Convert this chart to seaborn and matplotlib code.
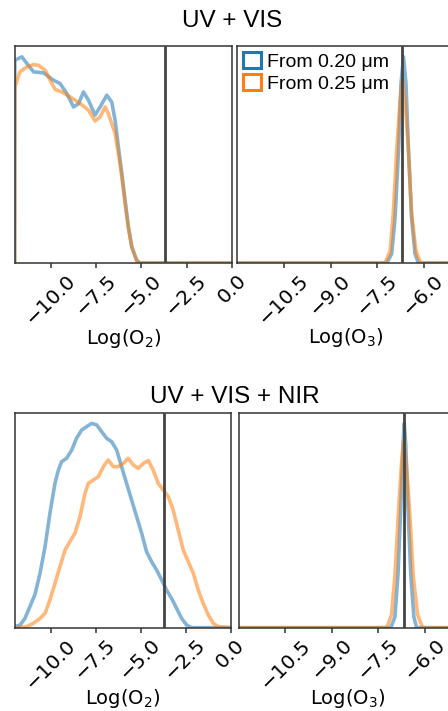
import matplotlib
matplotlib.use("Agg")
import matplotlib.pyplot as plt
from matplotlib.patches import Patch
import seaborn as sns

# -----------------------------
# Data (density normalised to axis height)
# -----------------------------
labels = ["From 0.20 \u03bcm", "From 0.25 \u03bcm"]
colors = ["#1f77b4", "#ff7f0e"]
row_titles = ["UV + VIS", "UV + VIS + NIR"]
true_o2 = -3.72
true_o3 = -6.69
o2_ticks = [-10.0, -7.5, -5.0, -2.5, 0.0]
o3_ticks = [-10.5, -9.0, -7.5, -6.0]

# UV + VIS, Log(O2)
vis_o2_blue_x = [-12.0, -11.99, -11.60, -11.32, -10.96, -10.40, -9.85, -9.49, -9.12, -8.75,
                 -8.47, -8.20, -7.92, -7.56, -7.28, -6.91, -6.64, -6.45, -6.27, -6.08,
                 -5.90, -5.72, -5.53, -5.26, -5.07, 0.0]
vis_o2_blue_y = [0.0, 0.935, 0.951, 0.920, 0.882, 0.877, 0.843, 0.828, 0.782, 0.720,
                 0.735, 0.789, 0.751, 0.682, 0.720, 0.774, 0.743, 0.658, 0.535, 0.412,
                 0.289, 0.166, 0.074, 0.012, 0.0, 0.0]
vis_o2_orange_x = [-12.0, -11.99, -11.71, -11.32, -10.96, -10.68, -10.31, -10.04, -9.76, -9.39,
                   -8.93, -8.37, -7.92, -7.56, -7.28, -7.00, -6.82, -6.45, -6.27, -6.08,
                   -5.90, -5.72, -5.53, -5.26, -5.07, 0.0]
vis_o2_orange_y = [0.0, 0.812, 0.882, 0.905, 0.915, 0.912, 0.889, 0.843, 0.800, 0.789,
                   0.766, 0.735, 0.705, 0.655, 0.674, 0.720, 0.689, 0.597, 0.505, 0.397,
                   0.274, 0.166, 0.074, 0.012, 0.0, 0.0]

# UV + VIS, Log(O3)
vis_o3_blue_x = [-12.0, -7.19, -7.03, -6.92, -6.81, -6.73, -6.65, -6.57, -6.49, -6.39, -6.28, -6.17, -5.0]
vis_o3_blue_y = [0.0, 0.0, 0.043, 0.212, 0.520, 0.828, 0.951, 0.828, 0.520, 0.212, 0.043, 0.0, 0.0]
vis_o3_orange_x = [-12.0, -7.24, -7.08, -6.98, -6.87, -6.76, -6.69, -6.60, -6.49, -6.39, -6.25, -6.10, -5.0]
vis_o3_orange_y = [0.0, 0.0, 0.058, 0.228, 0.520, 0.751, 0.846, 0.751, 0.520, 0.228, 0.058, 0.0, 0.0]

# UV + VIS + NIR, Log(O2)
nir_o2_blue_x = [-12.0, -11.70, -11.43, -11.15, -10.87, -10.59, -10.31, -10.04, -9.76, -9.57,
                 -9.39, -9.11, -8.83, -8.56, -8.28, -8.00, -7.72, -7.44, -7.17, -6.89,
                 -6.61, -6.33, -6.06, -5.78, -5.50, -5.22, -4.94, -4.67, -4.39, -4.11,
                 -3.83, -3.56, -3.28, -3.00, -2.72, -2.44, -2.17, 0.0]
nir_o2_blue_y = [0.005, 0.012, 0.043, 0.098, 0.155, 0.253, 0.377, 0.532, 0.671, 0.733,
                 0.772, 0.788, 0.826, 0.881, 0.919, 0.935, 0.950, 0.943, 0.912, 0.881,
                 0.865, 0.826, 0.749, 0.671, 0.594, 0.516, 0.439, 0.353, 0.307, 0.268,
                 0.222, 0.175, 0.136, 0.090, 0.043, 0.012, 0.0, 0.0]
nir_o2_orange_x = [-12.0, -11.33, -10.96, -10.59, -10.31, -10.04, -9.76, -9.48, -9.20, -8.93,
                   -8.65, -8.37, -8.09, -7.91, -7.63, -7.35, -7.07, -6.80, -6.52, -6.24,
                   -5.96, -5.69, -5.41, -5.13, -4.85, -4.57, -4.30, -4.02, -3.74, -3.46,
                   -3.19, -2.91, -2.63, -2.35, -2.07, -1.80, -1.52, -1.24, -0.96, -0.69, 0.0]
nir_o2_orange_y = [0.0, 0.005, 0.020, 0.043, 0.067, 0.129, 0.206, 0.284, 0.361, 0.400,
                   0.439, 0.516, 0.625, 0.671, 0.687, 0.702, 0.749, 0.780, 0.749, 0.749,
                   0.764, 0.788, 0.757, 0.741, 0.764, 0.777, 0.733, 0.671, 0.640, 0.609,
                   0.547, 0.454, 0.361, 0.307, 0.253, 0.175, 0.113, 0.059, 0.020, 0.005, 0.0]

# UV + VIS + NIR, Log(O3)
nir_o3_blue_x = [-12.0, -7.10, -6.97, -6.87, -6.78, -6.71, -6.67, -6.62, -6.55, -6.46, -6.36, -6.27, -5.0]
nir_o3_blue_y = [0.0, 0.0, 0.050, 0.250, 0.560, 0.850, 0.950, 0.850, 0.560, 0.250, 0.050, 0.0, 0.0]
nir_o3_orange_x = [-12.0, -7.23, -7.08, -6.97, -6.86, -6.76, -6.69, -6.60, -6.49, -6.38, -6.24, -6.08, -5.0]
nir_o3_orange_y = [0.0, 0.0, 0.060, 0.240, 0.530, 0.760, 0.865, 0.760, 0.530, 0.240, 0.060, 0.0, 0.0]

# -----------------------------
# Figure
# -----------------------------
sns.set_style("ticks")
plt.rcParams["font.family"] = ["DejaVu Sans"]
plt.rcParams["axes.edgecolor"] = "#333333"
plt.rcParams["axes.linewidth"] = 1.1
plt.rcParams["text.color"] = "black"
plt.rcParams["axes.labelcolor"] = "black"
plt.rcParams["xtick.color"] = "#333333"
plt.rcParams["xtick.labelcolor"] = "black"

fig = plt.figure(figsize=(4.48, 7.11), dpi=100)

ax_pos = [
    [0.0327, 0.630, 0.485, 0.305],
    [0.530, 0.630, 0.485, 0.305],
    [0.0327, 0.1172, 0.482, 0.3024],
    [0.533, 0.1172, 0.485, 0.3024],
]
axes = [fig.add_axes(p) for p in ax_pos]

panels = [
    (vis_o2_blue_x, vis_o2_blue_y, vis_o2_orange_x, vis_o2_orange_y),
    (vis_o3_blue_x, vis_o3_blue_y, vis_o3_orange_x, vis_o3_orange_y),
    (nir_o2_blue_x, nir_o2_blue_y, nir_o2_orange_x, nir_o2_orange_y),
    (nir_o3_blue_x, nir_o3_blue_y, nir_o3_orange_x, nir_o3_orange_y),
]

for i, ax in enumerate(axes):
    bx, by, ox, oy = panels[i]
    sns.lineplot(x=bx, y=by, ax=ax, color=colors[0], lw=2.6, alpha=0.55,
                 sort=False, estimator=None)
    sns.lineplot(x=ox, y=oy, ax=ax, color=colors[1], lw=2.6, alpha=0.55,
                 sort=False, estimator=None)
    is_o2 = i % 2 == 0
    pad = -1 if i < 2 else -4
    ax.axvline(true_o2 if is_o2 else true_o3, color="#444444", lw=2.0, zorder=5)
    if is_o2:
        ax.set_xlim(-12, 0)
        ax.set_xticks(o2_ticks)
        ax.set_xlabel("Log(O$_2$)", fontsize=14, labelpad=pad)
    else:
        ax.set_xlim(-12, -5)
        ax.set_xticks(o3_ticks)
        ax.set_xlabel("Log(O$_3$)", fontsize=14, labelpad=pad)
    ax.set_ylim(0, 1)
    ax.set_yticks([])
    ax.set_ylabel("")
    ax.tick_params(axis="x", labelsize=14.5, length=3.5, width=1.1, pad=2)
    plt.setp(ax.get_xticklabels(), rotation=45)

# Row titles
fig.text(0.519, 0.970, row_titles[0], ha="center", va="center", fontsize=17.5,
         family=["Liberation Sans", "DejaVu Sans"])
fig.text(0.525, 0.442, row_titles[1], ha="center", va="center", fontsize=17.5,
         family=["Liberation Sans", "DejaVu Sans"])

# Legend
handles = [Patch(facecolor="none", edgecolor=c, lw=2.2) for c in colors]
axes[1].legend(handles, labels, loc="upper left", frameon=False,
               prop={"family": ["Liberation Sans", "DejaVu Sans"], "size": 14},
               handlelength=0.9, handleheight=0.9, handletextpad=0.3,
               labelspacing=0.15, borderaxespad=0.2, borderpad=0.1)

fig.savefig("out.png", dpi=100)
